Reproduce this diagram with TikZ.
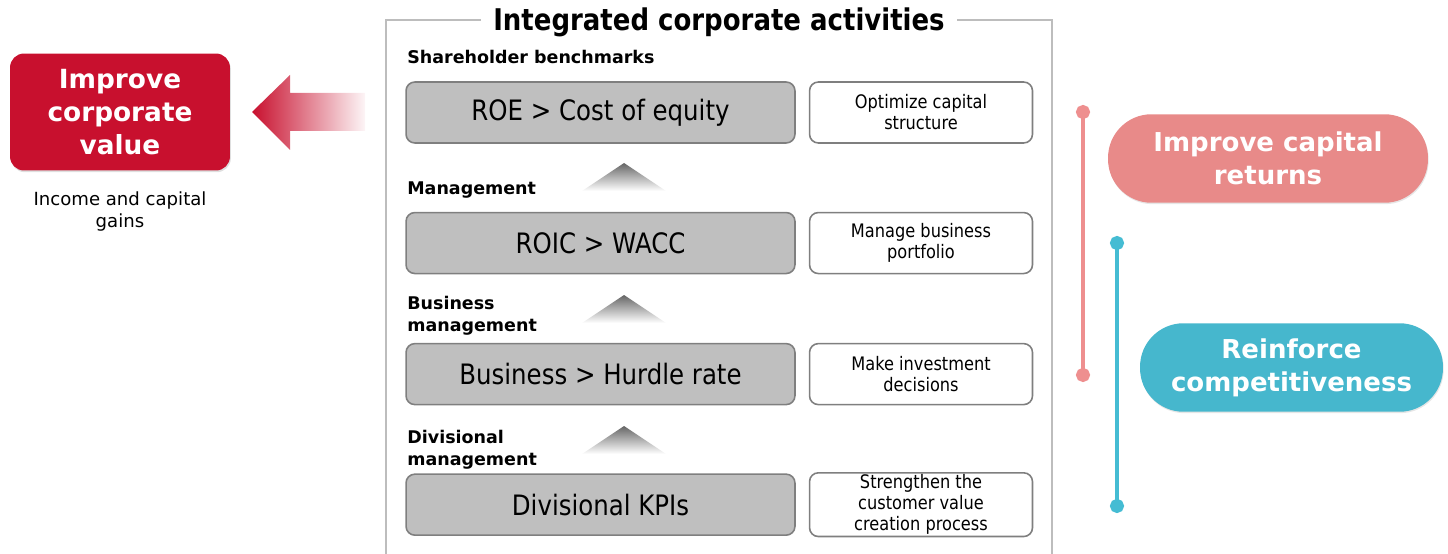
\documentclass[tikz,border=0pt]{standalone}
\usepackage{fontspec}
\setmainfont{DejaVu Sans}
\newfontfamily\narrowfont[FakeStretch=0.87]{DejaVu Sans}
\usetikzlibrary{positioning,shadows,arrows.meta}
\definecolor{crimson}{HTML}{C8102E}
\definecolor{boxgray}{HTML}{BFBFBF}
\definecolor{edgegray}{HTML}{7F7F7F}
\definecolor{framegray}{HTML}{BDBDBD}
\definecolor{pinkfill}{HTML}{E88A89}
\definecolor{pinkline}{HTML}{EE8F8F}
\definecolor{tealfill}{HTML}{46B7CD}
\definecolor{tealline}{HTML}{45BCD3}
\tikzset{
  metric/.style={draw=edgegray, fill=boxgray, line width=0.9pt, rounded corners=5pt,
    minimum width=7.78cm, minimum height=1.22cm, font=\narrowfont\fontsize{16}{19}\selectfont},
  action/.style={draw=edgegray, fill=white, line width=0.9pt, rounded corners=5pt,
    minimum width=4.46cm, minimum height=1.22cm, inner ysep=1pt, align=center,
    font=\narrowfont\fontsize{10.6}{12}\selectfont},
  sect/.style={anchor=north west, inner sep=0pt, align=left,
    font=\bfseries\fontsize{9.95}{12.5}\selectfont},
  capsule/.style={rounded corners=0.87cm, minimum height=1.77cm, text=white, align=center,
    font=\bfseries\fontsize{14.8}{18.7}\selectfont,
    drop shadow={opacity=0.2, shadow xshift=0.4pt, shadow yshift=-0.8pt}},
  dotline/.style={line width=2.3pt, {Circle[length=8pt]}-{Circle[length=8pt]}}
}
\begin{document}
\begin{tikzpicture}[x=0.02cm, y=-0.02cm]
\useasboundingbox (0,0) rectangle (1448,554);
% left: target
\node[fill=crimson, rounded corners=8pt, minimum width=4.4cm, minimum height=2.34cm,
  text=white, align=center, font=\bfseries\fontsize{15}{18.7}\selectfont,
  drop shadow={opacity=0.25, shadow xshift=0.5pt, shadow yshift=-1pt}]
  (value) at (120,112) {Improve\\corporate\\value};
\node[below=0.3cm of value, align=center, font=\fontsize{10.3}{12.5}\selectfont] (gains) {Income and capital\\gains};
\shade[left color=crimson, right color=crimson!4] (252,112) -- (290,75) -- (290,93) -- (365,93)
  -- (365,131) -- (290,131) -- (290,150) -- cycle;
% middle frame
\draw[framegray, line width=1.1pt] (386,554) -- (386,20) -- (1052,20) -- (1052,554);
\node[fill=white, anchor=base, inner xsep=7pt, font=\bfseries\narrowfont\fontsize{17}{20}\selectfont]
  (title) at (719,31) {Integrated corporate activities};
\node[metric] (roe) at (600.5,112.5) {ROE > Cost of equity};
\node[metric, below=1.36cm of roe] (roic) {ROIC > WACC};
\node[metric, below=1.37cm of roic] (hurdle) {Business > Hurdle rate};
\node[metric, below=1.36cm of hurdle] (kpi) {Divisional KPIs};
\node[action, right=0.26cm of roe] (structure) {Optimize capital\\structure};
\node[action, right=0.26cm of roic] (portfolio) {Manage business\\portfolio};
\node[action, right=0.26cm of hurdle] (invest) {Make investment\\decisions};
\node[action, right=0.26cm of kpi] (process) {Strengthen the\\customer value\\creation process};
\node[sect] (bench) at (407,50) {Shareholder benchmarks};
\node[sect] (mgmt) at (407,181) {Management};
\node[sect] (bizmgmt) at (407,296) {Business\\management};
\node[sect] (divmgmt) at (407,430) {Divisional\\management};
\foreach \y in {163,295,426}
  \shade[top color=black!60, bottom color=white] (582,{\y+28}) -- (624,\y) -- (666,{\y+28}) -- cycle;
% right: goals
\coordinate (pinktop) at (1083,105);
\coordinate (pinkbot) at (1083,382);
\coordinate (tealtop) at (1117,236);
\coordinate (tealbot) at (1117,513);
\draw[dotline, pinkline] (pinktop) -- (pinkbot);
\draw[dotline, tealline] (tealtop) -- (tealbot);
\node[capsule, fill=pinkfill, minimum width=6.4cm] (returns) at (1268,158.5) {Improve capital\\returns};
\node[capsule, fill=tealfill, minimum width=6.06cm] (compete) at (1291.5,367.5) {Reinforce\\competitiveness};
\end{tikzpicture}
\end{document}
